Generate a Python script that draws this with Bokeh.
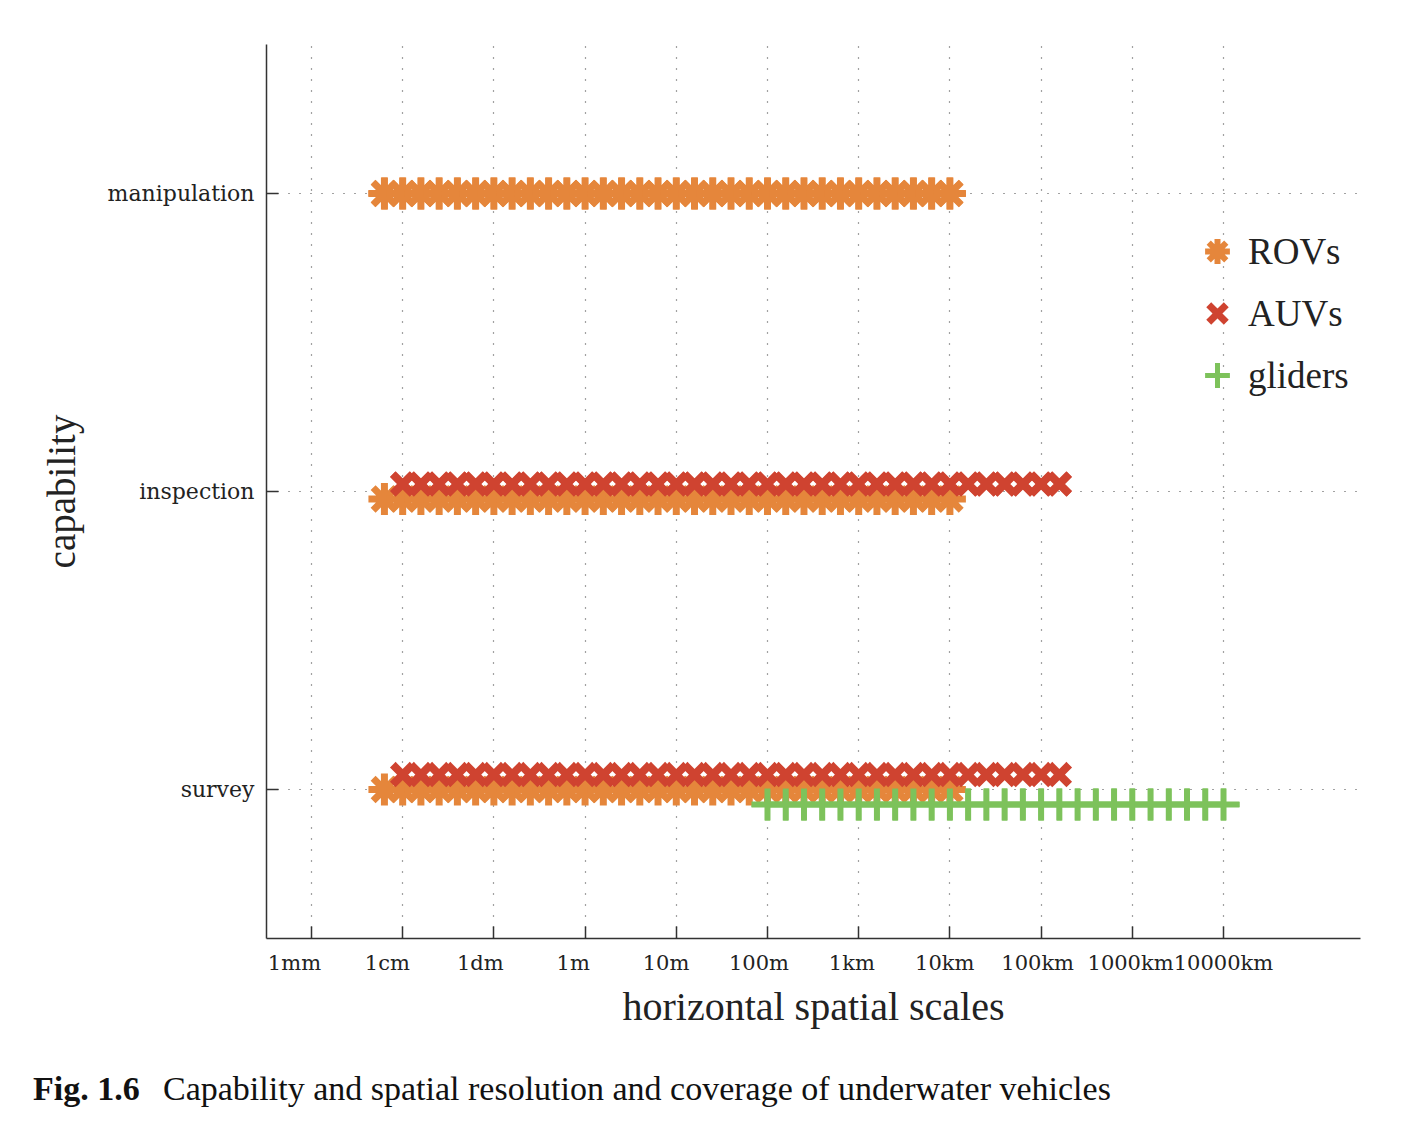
import math
from bokeh.plotting import figure
from bokeh.layouts import column
from bokeh.models import (FactorRange, Range1d, FixedTicker, ColumnDataSource,
                          Legend, LegendItem, LinearAxis, LinearScale, Div)
from bokeh.transform import dodge
from bokeh.embed import file_html
from bokeh.resources import INLINE

# ---------------- data ----------------
capabilities = ["survey", "inspection", "manipulation"]

tick_values_m = [1e-3, 1e-2, 1e-1, 1e0, 1e1, 1e2, 1e3, 1e4, 1e5, 1e6, 1e7]
tick_labels = ["1mm", "1cm", "1dm", "1m", "10m", "100m", "1km", "10km",
               "100km", "1000km", "10000km"]

# marker positions (log10 of metres)
rov_log10_m = [-2.2, -2.0, -1.8, -1.6, -1.4, -1.2, -1.0, -0.8, -0.6, -0.4,
               -0.2, 0.0, 0.2, 0.4, 0.6, 0.8, 1.0, 1.2, 1.4, 1.6,
               1.8, 2.0, 2.2, 2.4, 2.6, 2.8, 3.0, 3.2, 3.4, 3.6,
               3.8, 4.0]
auv_log10_m = [-2.0, -1.8, -1.6, -1.4, -1.2, -1.0, -0.8, -0.6, -0.4, -0.2,
               0.0, 0.2, 0.4, 0.6, 0.8, 1.0, 1.2, 1.4, 1.6, 1.8,
               2.0, 2.2, 2.4, 2.6, 2.8, 3.0, 3.2, 3.4, 3.6, 3.8,
               4.0, 4.2, 4.4, 4.6, 4.8, 5.0, 5.2]
glider_log10_m = [2.0, 2.2, 2.4, 2.6, 2.8, 3.0, 3.2, 3.4, 3.6, 3.8,
                  4.0, 4.2, 4.4, 4.6, 4.8, 5.0, 5.2, 5.4, 5.6, 5.8,
                  6.0, 6.2, 6.4, 6.6, 6.8, 7.0]

rov_capabilities = ["manipulation", "inspection", "survey"]
auv_capabilities = ["inspection", "survey"]
glider_capabilities = ["survey"]

caption_label = "Fig. 1.6"
caption_text = "Capability and spatial resolution and coverage of underwater vehicles"

# ---------------- styling ----------------
ORANGE = "#E5863B"
RED = "#CF4330"
GREEN = "#7DC25B"
TXT = "#222222"
SERIF = "Liberation Serif"
TICKFONT = "DejaVu Serif"

row_offsets = {
    "ROVs": {"manipulation": 0.0, "inspection": -0.025, "survey": 0.0},
    "AUVs": {"inspection": 0.025, "survey": 0.05},
    "gliders": {"survey": -0.05},
}

x_lo, x_hi = 10 ** -3.493, 10 ** 8.502

p = figure(width=1412, height=1066, output_backend="svg", toolbar_location=None,
           x_axis_type="log",
           x_range=Range1d(x_lo, x_hi),
           y_range=FactorRange(factors=capabilities, range_padding=0),
           min_border_left=266, min_border_right=52,
           min_border_top=44, min_border_bottom=128)
p.outline_line_color = None
p.background_fill_color = "white"
p.border_fill_color = "white"

# main axes
p.xaxis.ticker = FixedTicker(ticks=tick_values_m, minor_ticks=[])
p.xaxis.major_label_text_font_size = "1px"
p.xaxis.major_label_text_alpha = 0
p.xaxis.major_label_standoff = 0
for ax in (p.xaxis, p.yaxis):
    ax.axis_line_color = "#333333"
    ax.axis_line_width = 1.5
    ax.major_tick_line_color = "#333333"
    ax.major_tick_line_width = 1.5
    ax.major_tick_in = 12
    ax.major_tick_out = 0
    ax.minor_tick_line_color = None
    ax.axis_label_text_font = SERIF
    ax.axis_label_text_font_size = "39px"
    ax.axis_label_text_font_style = "normal"
    ax.axis_label_text_color = TXT

p.yaxis.axis_label = "capability"
p.yaxis.axis_label_standoff = 22
p.yaxis.major_label_text_font = TICKFONT
p.yaxis.major_label_text_font_size = "22px"
p.yaxis.major_label_text_color = TXT
p.yaxis.major_label_standoff = 12

# label axis: the original's scale labels sit on a slightly different spacing
# than the ticks (1mm label centred ~17px left of its tick, 10000km on its tick)
tick_exp = [float(round(math.log10(v))) for v in tick_values_m]
p.extra_x_ranges = {"labels": Range1d(-3.301, 8.475)}
p.extra_x_scales = {"labels": LinearScale()}
lab_ax = LinearAxis(x_range_name="labels",
                    ticker=FixedTicker(ticks=tick_exp, minor_ticks=[]),
                    major_label_overrides={e: t for e, t in zip(tick_exp, tick_labels)},
                    axis_line_color=None, major_tick_line_color=None,
                    minor_tick_line_color=None, major_tick_in=0, major_tick_out=0,
                    major_label_standoff=12,
                    major_label_text_font=TICKFONT, major_label_text_font_size="21px",
                    major_label_text_color=TXT,
                    axis_label="horizontal spatial scales", axis_label_standoff=6,
                    axis_label_text_font=SERIF, axis_label_text_font_size="40px",
                    axis_label_text_font_style="normal", axis_label_text_color=TXT)
p.add_layout(lab_ax, "below")

# grids
for g in (p.xgrid, p.ygrid):
    g.grid_line_color = "#444444"
    g.grid_line_width = 1.2
    g.grid_line_dash = "1 10"

# ---------------- marks ----------------
def make_sources(vehicle, log_values, caps):
    out = []
    for cap in caps:
        src = ColumnDataSource(dict(x=[10 ** v for v in log_values],
                                    cap=[cap] * len(log_values)))
        out.append((src, dodge("cap", row_offsets[vehicle][cap], range=p.y_range)))
    return out

rov_src = make_sources("ROVs", rov_log10_m, rov_capabilities)
auv_src = make_sources("AUVs", auv_log10_m, auv_capabilities)
gli_src = make_sources("gliders", glider_log10_m, glider_capabilities)

specs = [("ROVs", rov_src, "asterisk", 32, ORANGE, 7, 6),
         ("AUVs", auv_src, "x", 28, RED, 8, 7),
         ("gliders", gli_src, "cross", 32, GREEN, 6, 5)]

# legend keys: slightly lighter-stroked copies drawn underneath the real markers
keys = {}
for name, srcs, marker, size, color, lw, key_lw in specs:
    src, ydodge = srcs[0]
    keys[name] = p.scatter(x="x", y=ydodge, source=src, marker=marker, size=size,
                           line_color=color, fill_color=color, line_width=key_lw)

for name, srcs, marker, size, color, lw, key_lw in specs:
    for src, ydodge in srcs:
        p.scatter(x="x", y=ydodge, source=src, marker=marker, size=size,
                  line_color=color, fill_color=color, line_width=lw)

legend = Legend(items=[LegendItem(label=n, renderers=[keys[n]]) for n in ("ROVs", "AUVs", "gliders")],
                location=(920, 532), glyph_width=62, glyph_height=62,
                spacing=0, label_standoff=0, padding=0, margin=0,
                background_fill_alpha=0, border_line_alpha=0,
                label_text_font=SERIF, label_text_font_size="37px",
                label_text_color=TXT)
p.add_layout(legend)

# caption below the chart
caption = Div(
    text=('<span style="font-weight:bold;font-size:34px;display:inline-block;'
          'width:130px">' + caption_label + '</span>' + caption_text),
    width=1412, height=50,
    styles={"font-family": "Liberation Serif", "font-size": "34px",
            "color": "#111111", "padding-left": "28px", "line-height": "36px",
            "white-space": "nowrap"})

open("out.html", "w").write(file_html(column(p, caption, spacing=0), INLINE))
